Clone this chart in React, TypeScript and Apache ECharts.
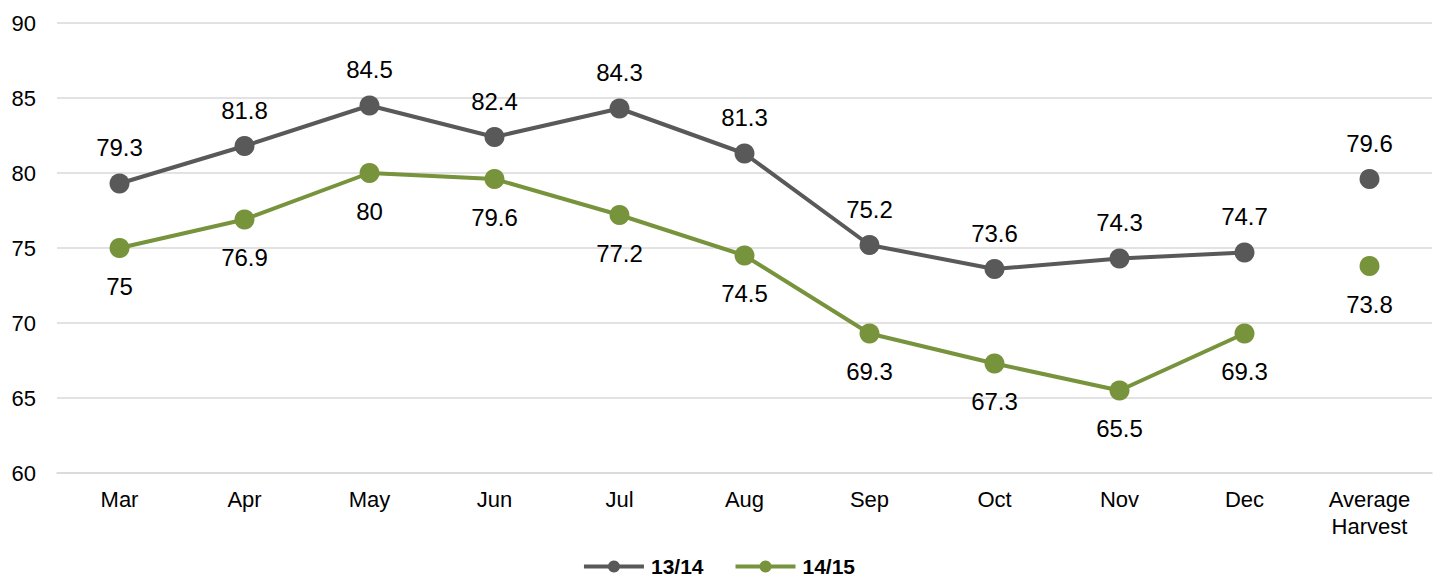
import React, { useEffect, useRef } from "react";
import * as echarts from "echarts";

const categories = ["Mar", "Apr", "May", "Jun", "Jul", "Aug", "Sep", "Oct", "Nov", "Dec", "Average\nHarvest"];
const s1314 = [79.3, 81.8, 84.5, 82.4, 84.3, 81.3, 75.2, 73.6, 74.3, 74.7];
const s1415 = [75, 76.9, 80, 79.6, 77.2, 74.5, 69.3, 67.3, 65.5, 69.3];
const avg1314 = 79.6;
const avg1415 = 73.8;
const yTicks = { min: 60, max: 90, interval: 5 };

const GRAY = "#595959";
const GREEN = "#77933C";
const FONT = "Liberation Sans, Arial, sans-serif";

export default function App() {
  const ref = useRef<HTMLDivElement>(null);
  useEffect(() => {
    document.body.style.margin = "0";
    const chart = echarts.init(ref.current!, null, { renderer: "svg" });
    const lineData = (arr: number[]) => [...arr, "-"];
    const avgData = (v: number) => [...categories.slice(0, -1).map(() => "-"), v];
    const labelStyle = (pos: string) => ({
      show: true,
      position: pos,
      distance: pos === "top" ? 14 : 16,
      fontSize: 24,
      color: "#000",
      opacity: 1,
      fontFamily: FONT,
    });
    chart.setOption({
      animation: false,
      grid: { left: 57, right: 5, top: 23, bottom: 106 },
      legend: {
        bottom: 2,
        left: "center",
        padding: 0,
        itemWidth: 60,
        itemHeight: 15,
        itemGap: 30,
        lineStyle: { width: 4 },
        textStyle: { fontSize: 21, fontWeight: "bold", color: "#000", fontFamily: FONT, padding: [0, 0, 0, 2] },
        data: ["13/14", "14/15"],
      },
      xAxis: {
        type: "category",
        data: categories,
        axisLine: { show: true, lineStyle: { color: "#D9D9D9", width: 1.5 } },
        axisTick: { show: false },
        axisLabel: { fontSize: 22, color: "#000", fontFamily: FONT, margin: 13, lineHeight: 27 },
      },
      yAxis: {
        type: "value",
        min: yTicks.min,
        max: yTicks.max,
        interval: yTicks.interval,
        axisLine: { show: false },
        axisTick: { show: false },
        splitLine: { lineStyle: { color: "#D9D9D9", width: 1.5 } },
        axisLabel: { fontSize: 22, color: "#000", fontFamily: FONT, margin: 21 },
      },
      series: [
        {
          name: "13/14",
          type: "line",
          data: lineData(s1314),
          symbol: "circle",
          symbolSize: 20,
          itemStyle: { color: GRAY, opacity: 1 },
          lineStyle: { color: GRAY, width: 4 },
          label: labelStyle("top"),
        },
        {
          name: "14/15",
          type: "line",
          data: lineData(s1415),
          symbol: "circle",
          symbolSize: 20,
          itemStyle: { color: GREEN, opacity: 1 },
          lineStyle: { color: GREEN, width: 4 },
          label: labelStyle("bottom"),
        },
        {
          name: "13/14",
          type: "scatter",
          data: avgData(avg1314),
          symbol: "circle",
          symbolSize: 20,
          itemStyle: { color: GRAY, opacity: 1 },
          label: labelStyle("top"),
        },
        {
          name: "14/15",
          type: "scatter",
          data: avgData(avg1415),
          symbol: "circle",
          symbolSize: 20,
          itemStyle: { color: GREEN, opacity: 1 },
          label: labelStyle("bottom"),
        },
      ],
    });
    return () => chart.dispose();
  }, []);
  return <div ref={ref} style={{ width: 1437, height: 579 }} />;
}
